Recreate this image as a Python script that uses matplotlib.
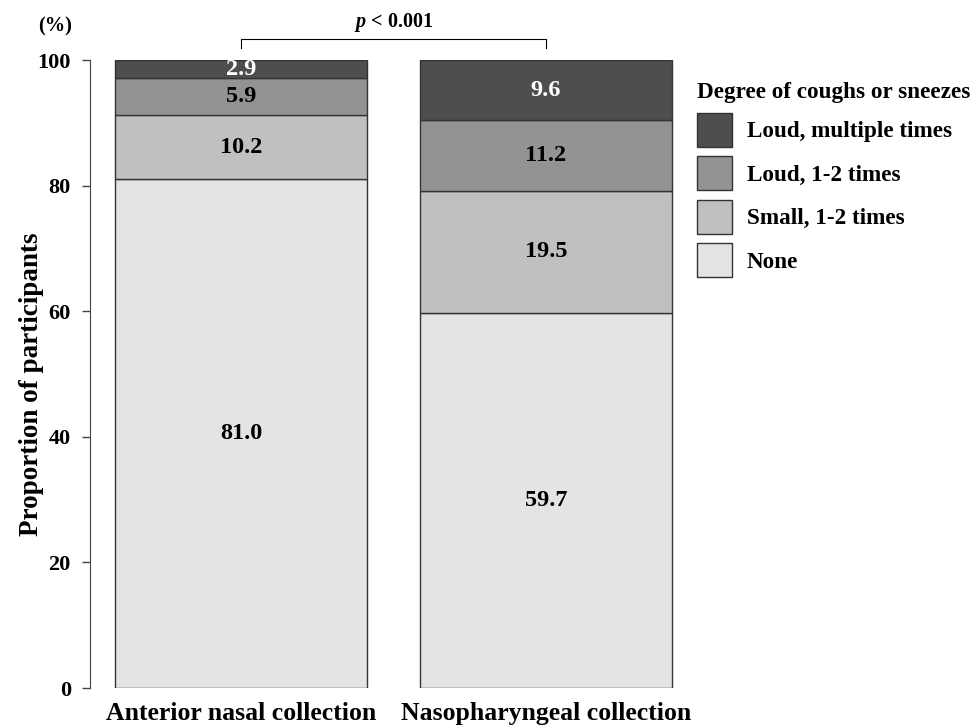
import matplotlib.pyplot as plt
import numpy as np
from matplotlib.patches import Patch

plt.rcParams['font.family'] = ['Liberation Serif', 'DejaVu Serif']
plt.rcParams['font.weight'] = 'bold'
plt.rcParams['mathtext.fontset'] = 'custom'
plt.rcParams['mathtext.bfit'] = 'Liberation Serif:bold:italic'
plt.rcParams['mathtext.rm'] = 'Liberation Serif:bold'

groups = ['Anterior nasal collection', 'Nasopharyngeal collection']
categories = ['None', 'Small, 1-2 times', 'Loud, 1-2 times', 'Loud, multiple times']
none_vals = [81.0, 59.7]
small_vals = [10.2, 19.5]
loud12_vals = [5.9, 11.2]
loud_multi_vals = [2.9, 9.6]
colors = ['#e4e4e4', '#c0c0c0', '#939393', '#4e4e4e']
text_colors = ['black', 'black', 'black', 'white']

W, H = 974, 726
fig = plt.figure(figsize=(W / 100, H / 100), dpi=100)
# axes placed in pixel units: left 90, right 700, top 60, bottom 688
ax = fig.add_axes([90 / W, (H - 688) / H, (700 - 90) / W, (688 - 60) / H])

x = np.arange(len(groups))
width = 0.826
series = [none_vals, small_vals, loud12_vals, loud_multi_vals]
bottom = np.zeros(len(groups))
for vals, c, tc in zip(series, colors, text_colors):
    vals = np.array(vals)
    ax.bar(x, vals, width, bottom=bottom, color=c, edgecolor='#333333', linewidth=1)
    for xi, b, v in zip(x, bottom, vals):
        ax.text(xi, b + v / 2, f'{v:.1f}', ha='center', va='center',
                fontsize=17.5, fontweight='bold', color=tc)
    bottom += vals

ax.set_xlim(-0.495, 1.505)
ax.set_ylim(0, 100)
ax.set_yticks(np.arange(0, 101, 20))
ax.tick_params(axis='y', labelsize=16, length=5.8, width=1, color='#444444', pad=8)
ax.set_xticks(x)
ax.set_xticklabels(groups, fontsize=18.5, fontweight='bold')
ax.tick_params(axis='x', length=0, pad=10)
for s in ['top', 'right', 'bottom']:
    ax.spines[s].set_visible(False)
ax.spines['left'].set_color('#444444')
ax.spines['left'].set_bounds(0, 100)
ax.set_ylabel('Proportion of participants', fontsize=19.5, fontweight='bold')
ax.yaxis.set_label_coords(-0.0754, 0.483)

# significance bracket
ax.plot([x[0], x[0], x[1], x[1]], [101.9, 103.3, 103.3, 101.9], color='black',
        linewidth=0.8, clip_on=False)
ax.text((x[0] + x[1]) / 2, 105.9, r'$\mathbfit{p}$ < 0.001', ha='center', va='center',
        fontsize=14.5, fontweight='bold')
fig.text(55 / W, 1 - 26 / H, '(%)', ha='center', va='center', fontsize=14.7, fontweight='bold')

handles = [Patch(facecolor=c, edgecolor='#333333', linewidth=1) for c in colors[::-1]]
leg = ax.legend(handles, categories[::-1], title='Degree of coughs or sneezes',
                loc='upper left', bbox_to_anchor=(697 / W, 1 - 82 / H),
                bbox_transform=fig.transFigure, frameon=False, fontsize=16.7,
                title_fontproperties={'size': 16.7, 'weight': 'bold'},
                handlelength=1.5, handleheight=1.88, labelspacing=0.41,
                handletextpad=0.65, borderpad=0, borderaxespad=0)
leg._legend_box.align = 'left'

fig.savefig('out.png', dpi=100)
